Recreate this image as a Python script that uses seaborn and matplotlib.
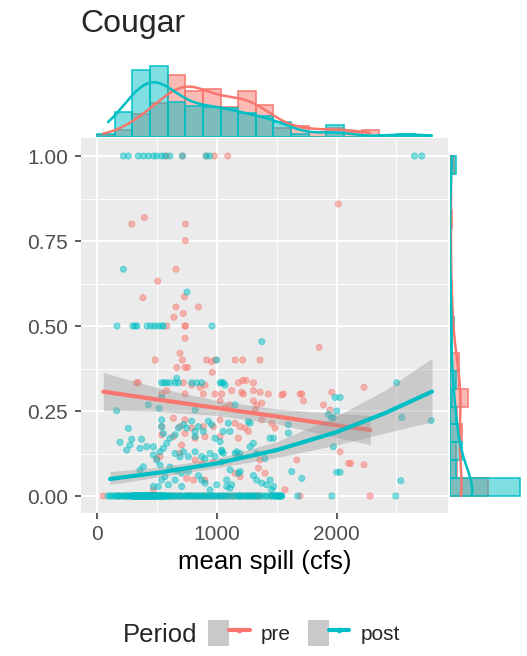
import numpy as np
import pandas as pd
import matplotlib
matplotlib.use("Agg")
import matplotlib.pyplot as plt
import seaborn as sns
from matplotlib.patches import Patch
from matplotlib.lines import Line2D
from matplotlib.legend_handler import HandlerTuple
from matplotlib.ticker import FixedLocator

sns.set_style("darkgrid")
plt.rcParams["font.family"] = ["Liberation Sans", "DejaVu Sans"]

RED = "#F8766D"
TEAL = "#00BFC4"

# ---------------- data ----------------
# pre period: points with proportion > 0
pre_x = [582, 713, 911, 980, 1092,
         2016,
         395, 290, 738, 738, 660, 507, 730, 384, 660, 847, 720, 643,
         582, 735, 738,
         735, 1855, 693, 485, 713, 916, 986, 1153, 1217, 1362, 958, 666, 735, 757, 963,
         331, 345, 721, 1181, 1306, 1217, 1245, 791, 902, 860, 2230,
         1125, 1306, 582, 1208, 1362, 1960, 540, 735, 888, 986, 1042, 1222, 1431, 1557, 1696, 1710, 1543,
         1027, 1306, 1724, 1111, 1334, 1891, 1069, 1320, 1946, 1376,
         638, 735, 1027, 1376, 1153, 1459, 693, 888, 540, 972, 1195, 791, 1236, 1487, 1264, 735, 540,
         638, 902, 1027, 819, 1181, 707, 2030, 693, 526, 499, 819, 1362, 1668, 972, 874, 2100, 2119,
         2230, 1348, 1153, 1403, 1195, 749, 805, 902, 471, 1570]
pre_y = [1.0, 1.0, 1.0, 1.0, 1.0,
         0.859,
         0.819, 0.80, 0.80, 0.751, 0.667, 0.632, 0.586, 0.583, 0.556, 0.556, 0.537, 0.526,
         0.5, 0.5, 0.5,
         0.464, 0.437, 0.42, 0.40, 0.40, 0.40, 0.40, 0.40, 0.40, 0.40, 0.395, 0.378, 0.378, 0.378, 0.364,
         0.333, 0.333, 0.333, 0.333, 0.333, 0.34, 0.34, 0.326, 0.326, 0.32, 0.32,
         0.31, 0.31, 0.31, 0.305, 0.305, 0.305, 0.30, 0.30, 0.30, 0.30, 0.30, 0.30, 0.30, 0.30, 0.30, 0.30, 0.297,
         0.28, 0.28, 0.28, 0.268, 0.268, 0.268, 0.26, 0.253, 0.253, 0.273,
         0.229, 0.224, 0.224, 0.224, 0.214, 0.214, 0.204, 0.204, 0.204, 0.204, 0.204, 0.20, 0.20, 0.20, 0.19, 0.184, 0.18,
         0.175, 0.175, 0.175, 0.17, 0.17, 0.15, 0.13, 0.126, 0.116, 0.11, 0.106, 0.106, 0.106, 0.10, 0.096, 0.096, 0.096,
         0.092, 0.082, 0.067, 0.067, 0.057, 0.052, 0.047, 0.047, 0.018, 0.018]
# pre period: spill values of the points sitting at proportion 0
pre_zero_x = [53, 540, 791, 1306, 1334, 1696, 2281, 180, 260, 330, 380, 420, 455, 500, 600, 650, 700,
              760, 850, 950, 1050, 1150, 1250, 1340, 1362, 1450, 620, 880, 1100, 560, 430,
              610, 680, 745, 800, 830, 905, 990, 1020, 1080, 1130, 1190, 1230, 1280, 440, 350]

# post period: points with proportion > 0
post_x = [220, 262, 345, 387, 429, 471, 499, 540, 568, 610, 713, 911, 940, 2651, 2712,
          220, 752,
          167, 300, 318, 334, 418, 450, 480, 510, 540, 554, 960,
          1376, 1000, 666,
          540, 560, 582, 610, 652, 680, 791, 833, 875, 1028, 1042, 1056, 1069, 2503,
          540, 1988, 2030, 429, 1153,
          164, 518, 819, 1933, 1960, 1974, 2002, 2545, 2790,
          540, 749, 791, 847, 930, 958, 1097, 1264, 1278, 1598, 722,
          262, 540, 680, 819, 888, 1111, 1055, 1598, 554, 652,
          290, 373, 610, 986, 819, 1445, 1473, 1028,
          192, 276, 415, 471, 582, 359, 554, 1306, 1278, 1974,
          248, 526, 1041, 1042, 1167, 1181, 1195, 1153, 1334, 652, 693, 722, 763, 819, 874, 902, 944, 986,
          471, 499, 1403, 1055, 1041,
          526, 610, 666, 707, 763, 359, 387, 1111, 1181, 1195, 1626, 2002, 2030,
          540, 568, 596, 652, 707, 471, 512, 847, 874, 902, 944, 1000, 1083, 1083, 1111, 1125,
          1306, 1334, 1376, 1417, 1445, 1473, 1459, 1710, 2537]
post_y = [1.0] * 15 + \
         [0.667, 0.60] + \
         [0.5] * 11 + \
         [0.454, 0.40, 0.346] + \
         [0.333] * 12 + [0.326, 0.333] + \
         [0.29, 0.29, 0.29, 0.268, 0.268] + \
         [0.251, 0.258, 0.253, 0.24, 0.23, 0.23, 0.25, 0.231, 0.222] + \
         [0.224, 0.20, 0.22, 0.204, 0.22, 0.21, 0.214, 0.219, 0.214, 0.21, 0.21] + \
         [0.199, 0.204, 0.20, 0.19, 0.19, 0.19, 0.19, 0.185, 0.184, 0.18] + \
         [0.167, 0.167, 0.17, 0.17, 0.175, 0.17, 0.17, 0.16] + \
         [0.158, 0.15, 0.145, 0.145, 0.155, 0.14, 0.14, 0.155, 0.145, 0.145] + \
         [0.135, 0.13, 0.135, 0.13, 0.13, 0.12, 0.125, 0.125, 0.125, 0.125, 0.115, 0.13, 0.116, 0.13,
          0.116, 0.11, 0.125, 0.116] + \
         [0.121, 0.106, 0.11, 0.126, 0.10] + \
         [0.091, 0.085, 0.075, 0.067, 0.072, 0.076, 0.086, 0.077, 0.067, 0.072, 0.072, 0.07, 0.07] + \
         [0.047, 0.057, 0.033, 0.047, 0.028, 0.028, 0.028, 0.06, 0.047, 0.038, 0.018, 0.033, 0.047,
          0.028, 0.023, 0.033, 0.06, 0.047, 0.038, 0.033, 0.047, 0.028, 0.018, 0.052, 0.045]
# post period: spill values of the (heavily overplotted) points at proportion 0
post_zero_x = [92, 110, 128, 150, 170, 192, 212, 232, 250, 266, 280, 295, 303, 311, 320, 328, 336, 344,
               352, 360, 368, 376, 384, 392, 400, 408, 416, 424, 432, 440, 448, 456, 464, 472, 480, 489,
               498, 507, 517, 527, 538, 549, 561, 574, 590, 612, 640, 668, 700, 735, 770, 810, 850, 895,
               940, 985, 1030, 1080, 1125, 1170, 1220, 1265, 1310, 1360, 1405, 1450, 1500, 1543, 1676,
               1961, 2495,
               158, 185, 226, 258,
               298, 302, 308, 314, 317, 325, 331, 339, 347, 355, 363, 371, 380, 388, 396, 404, 412, 420,
               428, 436, 299, 341, 366, 395, 419, 437,
               444, 452, 460, 468, 476, 485, 494, 503, 512, 522, 533, 543, 555, 567, 580, 459, 483, 515,
               546, 571,
               598, 625, 655, 690, 720,
               745, 760, 790, 825, 840, 862, 875, 790,
               905, 925, 960, 1000, 1015, 968,
               1050, 1100, 1150, 1060,
               1185, 1200, 1240, 1250, 1285, 1300, 1320, 1195, 1275,
               1340, 1380, 1420, 1465,
               1480, 1490, 1505, 1515, 1520, 1528, 1535, 1540, 1512]

# fitted smooths (line + confidence band)
pre_fit_x = [53, 500, 1000, 1500, 2000, 2282]
pre_fit_y = [0.307, 0.284, 0.259, 0.234, 0.208, 0.194]
pre_fit_lo = [0.251, 0.249, 0.237, 0.212, 0.173, 0.151]
pre_fit_hi = [0.363, 0.319, 0.281, 0.256, 0.243, 0.237]

post_fit_x = [109, 500, 1000, 1500, 2000, 2400, 2797]
post_fit_y = [0.050, 0.068, 0.096, 0.135, 0.188, 0.243, 0.307]
post_fit_lo = [0.034, 0.055, 0.083, 0.113, 0.150, 0.185, 0.218]
post_fit_hi = [0.072, 0.084, 0.110, 0.160, 0.235, 0.310, 0.405]

x_ticks = [0, 1000, 2000]
y_ticks = [0.0, 0.25, 0.5, 0.75, 1.0]
y_ticklabels = ["0.00", "0.25", "0.50", "0.75", "1.00"]

# ---------------- figure ----------------
W, H = 527, 656
fig = plt.figure(figsize=(W / 100, H / 100), dpi=100)
fig.patch.set_facecolor("white")


def rect(l, t, r, b):
    return [l / W, 1 - b / H, (r - l) / W, (b - t) / H]


ax = fig.add_axes(rect(80.7, 138, 448, 513))
axt = fig.add_axes(rect(80.7, 62, 448, 137))
axr = fig.add_axes(rect(450, 138, 524, 513))

pre_all_x = pre_x + pre_zero_x
pre_all_y = pre_y + [0.0] * len(pre_zero_x)
post_all_x = post_x + post_zero_x
post_all_y = post_y + [0.0] * len(post_zero_x)

df = pd.DataFrame({
    "spill": pre_all_x + post_all_x,
    "prop": pre_all_y + post_all_y,
    "Period": ["pre"] * len(pre_all_x) + ["post"] * len(post_all_x),
})
pal = {"pre": RED, "post": TEAL}

ax.set_facecolor("#EBEBEB")
sns.scatterplot(data=df, x="spill", y="prop", hue="Period", palette=pal,
                alpha=0.5, s=20, linewidth=0.6, edgecolor="face",
                ax=ax, legend=False, zorder=3)

fits = [("pre", pre_fit_x, pre_fit_y, pre_fit_lo, pre_fit_hi),
        ("post", post_fit_x, post_fit_y, post_fit_lo, post_fit_hi)]
z = 4
for name, fx, fy, lo, hi in fits:
    ax.fill_between(fx, lo, hi, color="#999999", alpha=0.4, linewidth=0, zorder=z)
    fdf = pd.DataFrame({"spill": fx, "prop": fy})
    sns.lineplot(data=fdf, x="spill", y="prop", color=pal[name], linewidth=3.0,
                 ax=ax, zorder=z + 1)
    z += 2

ax.set_xlim(-136, 2931)
ax.set_ylim(-0.05, 1.053)
ax.xaxis.set_major_locator(FixedLocator(x_ticks))
ax.xaxis.set_minor_locator(FixedLocator([500, 1500, 2500]))
ax.yaxis.set_major_locator(FixedLocator(y_ticks))
ax.yaxis.set_minor_locator(FixedLocator([0.125, 0.375, 0.625, 0.875]))
ax.set_yticklabels(y_ticklabels)
ax.grid(which="major", color="white", linewidth=1.4)
ax.grid(which="minor", color="white", linewidth=0.7)
ax.set_axisbelow(True)
for s in ax.spines.values():
    s.set_visible(False)
ax.tick_params(which="major", length=4, width=1.1, color="#333333",
               labelcolor="#4D4D4D", labelsize=15, pad=5,
               bottom=True, left=True)
ax.tick_params(which="minor", length=0)
ax.set_xlabel("mean spill (cfs)", fontsize=18.5, color="black", labelpad=4)
ax.set_ylabel("")

# ---------------- marginals ----------------
xbins = dict(bins=19, binrange=(0, 2800))
ybins = dict(bins=19, binrange=(0, 1))
for name, xs, ys in [("pre", pre_all_x, pre_all_y), ("post", post_all_x, post_all_y)]:
    c = pal[name]
    rgb = matplotlib.colors.to_rgb(c)
    n0 = len(axt.patches)
    sns.histplot(x=xs, ax=axt, stat="density", kde=True, color=c,
                 kde_kws=dict(cut=0), line_kws=dict(linewidth=1.8), **xbins)
    for p in axt.patches[n0:]:
        p.set_alpha(None)
        p.set_facecolor(rgb + (0.5,))
        p.set_edgecolor(rgb + (0.9,))
        p.set_linewidth(1.2)
    n0 = len(axr.patches)
    sns.histplot(y=ys, ax=axr, stat="density", kde=True, color=c,
                 kde_kws=dict(cut=0), line_kws=dict(linewidth=1.8), **ybins)
    for p in axr.patches[n0:]:
        p.set_alpha(None)
        p.set_facecolor(rgb + (0.5,))
        p.set_edgecolor(rgb + (0.9,))
        p.set_linewidth(1.2)

axt.set_xlim(ax.get_xlim())
axt.set_ylim(0, None)
axt.axis("off")
axr.set_ylim(ax.get_ylim())
axr.set_xlim(0, None)
axr.axis("off")

# ---------------- title & legend ----------------
fig.text(80 / W, 1 - 32 / H, "Cougar", fontsize=23, ha="left", va="baseline")
fig.text(123 / W, 1 - 635 / H, "Period", fontsize=18.5, ha="left", va="center")

handles = []
for name in ["pre", "post"]:
    handles.append((Patch(facecolor="#C9C9C9", edgecolor="none"),
                    Line2D([], [], color=pal[name], linewidth=3, marker="o",
                           markersize=3)))
fig.legend(handles=handles, labels=["pre", "post"], loc="center left",
           bbox_to_anchor=(208 / W, 1 - 633 / H), ncol=2, frameon=False,
           fontsize=15, handlelength=2.0, handleheight=1.5, handletextpad=0.55,
           columnspacing=0.8, borderaxespad=0, borderpad=0,
           handler_map={tuple: HandlerTuple(ndivide=None)})

fig.savefig("out.png", dpi=100)
